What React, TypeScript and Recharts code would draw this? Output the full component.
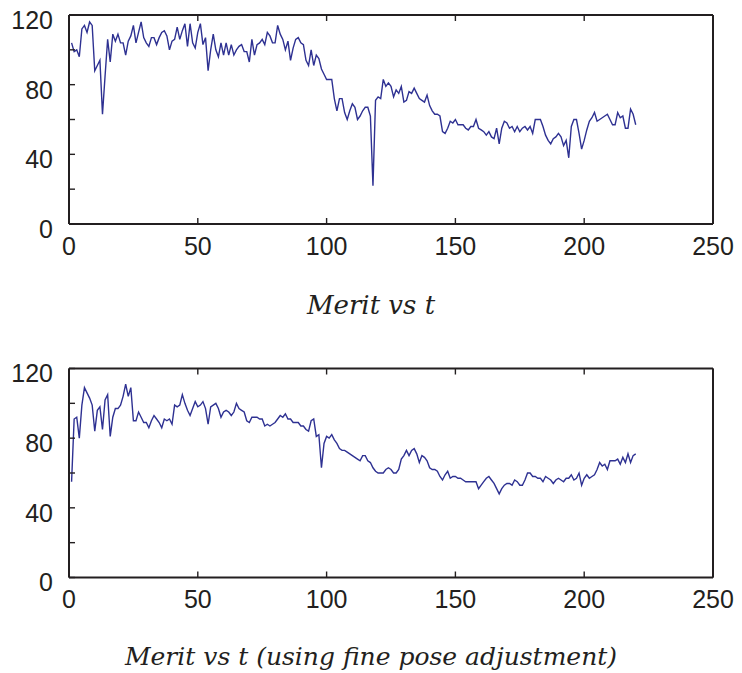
import React from 'react';
import { LineChart, Line, XAxis, YAxis } from 'recharts';

// Merit values, t = 1 .. 220
const meritPlain = [
  104, 99, 100, 96, 112, 114, 110, 116, 114, 88,
  91, 94, 63, 85, 106, 93, 109, 105, 109, 104,
  104, 97, 105, 108, 114, 104, 110, 116, 107, 104,
  102, 107, 107, 103, 107, 110, 111, 108, 100, 105,
  106, 113, 106, 111, 115, 102, 115, 104, 101, 110,
  115, 103, 107, 88, 100, 109, 100, 96, 104, 97,
  104, 97, 103, 97, 100, 102, 103, 99, 99, 93,
  106, 97, 103, 104, 106, 103, 110, 108, 104, 104,
  114, 109, 106, 100, 105, 94, 101, 106, 107, 104,
  103, 94, 91, 100, 91, 97, 95, 89, 86, 83,
  83, 83, 72, 65, 72, 72, 64, 60, 65, 69,
  67, 60, 62, 65, 67, 67, 62, 22, 71, 73,
  72, 83, 79, 81, 79, 73, 77, 75, 79, 70,
  71, 76, 75, 78, 75, 72, 71, 70, 74, 68,
  65, 63, 63, 62, 53, 52, 55, 59, 58, 60,
  57, 57, 57, 55, 54, 56, 56, 60, 55, 54,
  53, 51, 53, 50, 49, 55, 46, 55, 59, 58,
  55, 56, 53, 56, 53, 55, 56, 54, 56, 52,
  60, 60, 60, 56, 51, 48, 46, 49, 50, 52,
  50, 45, 48, 38, 56, 60, 60, 52, 43, 48,
  54, 59, 61, 64, 59, 60, 61, 62, 63, 60,
  57, 57, 64, 61, 62, 55, 55, 66, 63, 57,
];

const meritFine = [
  55, 91, 92, 80, 99, 109, 106, 103, 99, 84,
  96, 98, 85, 102, 105, 81, 92, 97, 97, 99,
  104, 111, 104, 109, 90, 90, 95, 92, 89, 89,
  86, 90, 93, 91, 89, 86, 91, 90, 91, 88,
  99, 98, 99, 105, 100, 96, 93, 97, 101, 98,
  99, 101, 97, 88, 98, 99, 100, 97, 92, 95,
  96, 95, 93, 95, 100, 97, 96, 95, 90, 89,
  92, 92, 92, 91, 91, 87, 88, 87, 88, 89,
  91, 93, 92, 94, 91, 91, 89, 89, 89, 87,
  87, 85, 84, 90, 91, 81, 82, 63, 77, 81,
  80, 82, 79, 77, 74, 73, 73, 72, 71, 70,
  69, 68, 67, 70, 70, 67, 66, 63, 61, 60,
  60, 60, 62, 63, 62, 60, 60, 62, 68, 70,
  73, 70, 73, 74, 71, 66, 70, 69, 67, 63,
  62, 62, 61, 58, 56, 59, 61, 57, 58, 58,
  57, 57, 56, 55, 55, 55, 55, 55, 51, 53,
  55, 57, 58, 56, 54, 51, 48, 51, 53, 54,
  54, 53, 56, 55, 53, 53, 56, 60, 60, 58,
  58, 57, 57, 55, 58, 57, 56, 54, 56, 57,
  56, 55, 57, 57, 59, 56, 57, 60, 53, 57,
  59, 57, 58, 59, 62, 66, 64, 65, 62, 67,
  67, 67, 68, 65, 69, 66, 71, 66, 70, 71,
];

const xTicks = [0, 50, 100, 150, 200, 250];
const yTicks = [0, 20, 40, 60, 80, 100, 120];
const yLabelled = [0, 40, 80, 120];
const captions = ['Merit vs t', 'Merit vs t (using fine pose adjustment)'];

const FRAME = '#231F20';
const LINE = '#2E3192';
const TICK_FONT = { fill: '#231F20', fontSize: 25, fontFamily: '"Liberation Sans", Arial, sans-serif' };

function Panel({ values, top, mTop, mBottom }: { values: number[]; top: number; mTop: number; mBottom: number }) {
  const data = values.map((v, i) => ({ t: i + 1, v }));
  const axisLine = { stroke: FRAME, strokeWidth: 2 };
  const tickLine = { stroke: FRAME, strokeWidth: 1.4 };
  return (
    <div style={{ position: 'absolute', left: 0, top, width: 742, height: 260 }}>
      <LineChart width={742} height={260} data={data} margin={{ top: mTop - 2, right: 27, bottom: mBottom - 30, left: 9 }}>
        <XAxis
          xAxisId="b"
          dataKey="t"
          type="number"
          domain={[0, 250]}
          ticks={xTicks}
          interval={0}
          orientation="bottom"
          height={30}
          tickSize={-6}
          tickMargin={19}
          axisLine={axisLine}
          tickLine={tickLine}
          tick={TICK_FONT}
        />
        <XAxis
          xAxisId="t"
          dataKey="t"
          type="number"
          domain={[0, 250]}
          ticks={xTicks}
          interval={0}
          orientation="top"
          height={2}
          tickSize={-6}
          axisLine={axisLine}
          tickLine={tickLine}
          tickFormatter={() => ''}
        />
        <YAxis
          yAxisId="l"
          type="number"
          domain={[0, 120]}
          ticks={yTicks}
          interval={0}
          orientation="left"
          width={60}
          tickSize={-6}
          tickMargin={22}
          axisLine={axisLine}
          tickLine={tickLine}
          tick={{ ...TICK_FONT, dy: 5 }}
          tickFormatter={(v: number) => (yLabelled.includes(v) ? String(v) : '')}
        />
        <YAxis
          yAxisId="r"
          type="number"
          domain={[0, 120]}
          ticks={yTicks}
          interval={0}
          orientation="right"
          width={2}
          tickSize={-6}
          axisLine={axisLine}
          tickLine={tickLine}
          tickFormatter={() => ''}
        />
        <Line
          xAxisId="b"
          yAxisId="l"
          dataKey="v"
          type="linear"
          stroke={LINE}
          strokeWidth={1.4}
          dot={false}
          isAnimationActive={false}
        />
      </LineChart>
    </div>
  );
}

export default function App() {
  return (
    <div style={{ position: 'absolute', left: 0, top: 0, width: 742, height: 673, background: '#fff' }}>
      <Panel values={meritPlain} top={0} mTop={15} mBottom={36} />
      <Panel values={meritFine} top={353} mTop={15.5} mBottom={35.5} />
      <svg width={742} height={673} style={{ position: 'absolute', left: 0, top: 0, pointerEvents: 'none' }}>
        <text x={371} y={314} textAnchor="middle" fontFamily='"DejaVu Serif", serif' fontStyle="italic" fontSize={26} fill="#231F20">
          {captions[0]}
        </text>
        <text x={371} y={665} textAnchor="middle" fontFamily='"DejaVu Serif", serif' fontStyle="italic" fontSize={25} fill="#231F20">
          {captions[1]}
        </text>
      </svg>
    </div>
  );
}
